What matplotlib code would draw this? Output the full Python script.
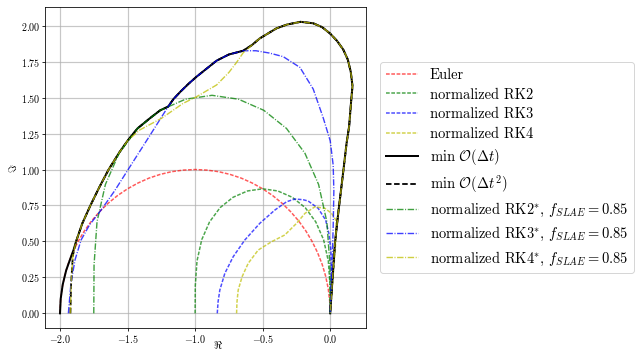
import matplotlib
matplotlib.use("Agg")
import matplotlib.pyplot as plt

plt.rcParams['font.family'] = 'serif'
plt.rcParams['font.serif'] = ['cmr10', 'DejaVu Serif']
plt.rcParams['mathtext.fontset'] = 'cm'
plt.rcParams['axes.formatter.use_mathtext'] = True
plt.rcParams['lines.scale_dashes'] = False

euler_x = [-2.0, -1.996, -1.985, -1.966, -1.94, -1.906, -1.866, -1.819, -1.766, -1.707,
           -1.643, -1.574, -1.5, -1.423, -1.342, -1.259, -1.174, -1.087, -1.0,
           -0.913, -0.826, -0.741, -0.658, -0.577, -0.5, -0.426, -0.357, -0.293,
           -0.234, -0.181, -0.134, -0.094, -0.06, -0.034, -0.015, -0.004, 0.0]
euler_y = [0.0, 0.087, 0.174, 0.259, 0.342, 0.423, 0.5, 0.574, 0.643, 0.707,
           0.766, 0.819, 0.866, 0.906, 0.94, 0.966, 0.985, 0.996, 1.0,
           0.996, 0.985, 0.966, 0.94, 0.906, 0.866, 0.819, 0.766, 0.707,
           0.643, 0.574, 0.5, 0.423, 0.342, 0.259, 0.174, 0.087, 0.0]

rk2_x = [-1.0, -0.9987, -0.986, -0.951, -0.893, -0.815, -0.719, -0.612, -0.5,
         -0.388, -0.281, -0.185, -0.107, -0.049, -0.014, -0.0013, 0.0]
rk2_y = [0.0, 0.192, 0.364, 0.512, 0.636, 0.735, 0.807, 0.851, 0.866,
         0.851, 0.807, 0.735, 0.636, 0.512, 0.364, 0.192, 0.0]

rk3_x = [-0.836, -0.83, -0.817, -0.78, -0.718, -0.632, -0.521, -0.41, -0.323, -0.261,
         -0.2, -0.163, -0.089, -0.034, -0.01, 0.005, 0.008, 0.005, 0.0]
rk3_y = [0.0, 0.08, 0.162, 0.278, 0.394, 0.51, 0.626, 0.718, 0.776, 0.795,
         0.79, 0.781, 0.73, 0.649, 0.556, 0.44, 0.3, 0.15, 0.0]

rk4_x = [-0.693, -0.69, -0.681, -0.652, -0.607, -0.533, -0.434, -0.336, -0.249, -0.187,
         -0.113, -0.039, 0.01, 0.042, 0.045, 0.038, 0.025, 0.012, 0.0]
rk4_y = [0.0, 0.08, 0.162, 0.255, 0.348, 0.44, 0.498, 0.545, 0.626, 0.695,
         0.741, 0.73, 0.695, 0.649, 0.6, 0.45, 0.3, 0.15, 0.0]

rk2s_x = [-1.75, -1.748, -1.726, -1.664, -1.563, -1.426, -1.258, -1.071, -0.875,
          -0.679, -0.492, -0.324, -0.187, -0.086, -0.025, -0.002, 0.0]
rk2s_y = [0.0, 0.336, 0.637, 0.896, 1.113, 1.286, 1.412, 1.489, 1.516,
          1.489, 1.412, 1.286, 1.113, 0.896, 0.637, 0.336, 0.0]

rk3s_x = [-1.938, -1.919, -1.889, -1.844, -1.782, -1.696, -1.597, -1.499, -1.336, -1.2,
          -1.16, -1.11, -1.05, -0.99, -0.841, -0.75, -0.644, -0.55, -0.45, -0.348,
          -0.224, -0.126, -0.052, 0.0, 0.022, 0.027, 0.022, 0.012, 0.0]
rk3s_y = [0.0, 0.209, 0.371, 0.51, 0.614, 0.718, 0.85, 0.995, 1.235, 1.437,
          1.49, 1.54, 1.595, 1.645, 1.757, 1.80, 1.826, 1.826, 1.81, 1.785,
          1.71, 1.56, 1.36, 1.2, 1.03, 0.85, 0.6, 0.3, 0.0]

rk4s_x = [-1.923, -1.918, -1.905, -1.881, -1.835, -1.775, -1.71, -1.64, -1.56, -1.5,
          -1.41, -1.249, -1.089, -0.99, -0.841, -0.75, -0.693, -0.644, -0.58, -0.521,
          -0.397, -0.32, -0.22, -0.126, -0.06, 0.0, 0.05, 0.096, 0.13, 0.152,
          0.165, 0.157, 0.14, 0.121, 0.092, 0.062, 0.035, 0.018, 0.0]
rk4s_y = [0.0, 0.2, 0.4, 0.5, 0.625, 0.75, 0.875, 1.0, 1.12, 1.2,
          1.275, 1.356, 1.46, 1.506, 1.588, 1.675, 1.745, 1.812, 1.865, 1.912,
          1.982, 2.008, 2.027, 2.017, 1.99, 1.945, 1.895, 1.835, 1.765, 1.68,
          1.58, 1.5, 1.3, 1.182, 0.95, 0.718, 0.487, 0.255, 0.0]

# envelopes
min1_x = [-2.0, -1.995, -1.98, -1.954, -1.916, -1.9, -1.881, -1.835, -1.775, -1.71,
          -1.64, -1.56, -1.5, -1.426, -1.33, -1.258, -1.2, -1.16, -1.11, -1.05,
          -0.99, -0.841, -0.75, -0.644, -0.58, -0.521, -0.397, -0.32, -0.22, -0.126,
          -0.06, 0.0, 0.05, 0.096, 0.13, 0.152, 0.165, 0.157, 0.14, 0.121,
          0.092, 0.062, 0.035, 0.018, 0.0]
min1_y = [0.0, 0.1, 0.2, 0.3, 0.4, 0.44, 0.5, 0.625, 0.75, 0.875,
          1.0, 1.12, 1.2, 1.286, 1.36, 1.412, 1.437, 1.49, 1.54, 1.595,
          1.645, 1.757, 1.80, 1.826, 1.865, 1.912, 1.982, 2.008, 2.027, 2.017,
          1.99, 1.945, 1.895, 1.835, 1.765, 1.68, 1.58, 1.5, 1.3, 1.182,
          0.95, 0.718, 0.487, 0.255, 0.0]

min2_x = [-1.923, -1.918, -1.905] + min1_x[6:]
min2_y = [0.0, 0.2, 0.4] + min1_y[6:]

fig = plt.figure(figsize=(635 / 72, 353 / 72), dpi=72)
ax = fig.add_axes([0.0713, 0.070, 0.5051, 0.9093])

ax.plot(euler_x, euler_y, 'r--', lw=1.5, alpha=0.65, label='Euler')
ax.plot(rk2_x, rk2_y, 'g--', lw=1.5, alpha=0.7, label='normalized RK2')
ax.plot(rk3_x, rk3_y, 'b--', lw=1.5, alpha=0.7, label='normalized RK3')
ax.plot(rk4_x, rk4_y, 'y--', lw=1.5, alpha=0.7, label='normalized RK4')
ax.plot(min1_x, min1_y, 'k-', lw=2.0, label=r'min $\mathcal{O}(\Delta t)$')
ax.plot(min2_x, min2_y, 'k--', lw=1.8, dashes=(5.5, 2.6),
        label=r'min $\mathcal{O}(\Delta t^2)$')
ax.plot(rk2s_x, rk2s_y, 'g-.', lw=1.4, alpha=0.75,
        label=r'normalized RK2$^{*}$, $f_{SLAE} = 0.85$')
ax.plot(rk3s_x, rk3s_y, 'b-.', lw=1.4, alpha=0.75,
        label=r'normalized RK3$^{*}$, $f_{SLAE} = 0.85$')
ax.plot(rk4s_x, rk4s_y, 'y-.', lw=1.4, alpha=0.75,
        label=r'normalized RK4$^{*}$, $f_{SLAE} = 0.85$')

ax.set_xticks([-2.0, -1.5, -1.0, -0.5, 0.0])
ax.set_yticks([0.0, 0.25, 0.5, 0.75, 1.0, 1.25, 1.5, 1.75, 2.0])
ax.set_xlim(-2.109, 0.265)
ax.set_ylim(-0.104, 2.128)
ax.tick_params(labelsize=10, length=3, pad=2)
ax.grid(True, color='#b0b0b0', lw=1.2, alpha=0.7)
ax.set_xlabel(r'$\Re$', fontsize=11)
ax.xaxis.set_label_coords(0.538, -0.034)
ax.set_ylabel(r'$\Im$', fontsize=11, labelpad=2)

ax.legend(loc='center left', bbox_to_anchor=(1.022, 0.5), fontsize=14.5,
          handlelength=2.2, handletextpad=0.8, labelspacing=0.42)

fig.savefig('out.png', dpi=72)
